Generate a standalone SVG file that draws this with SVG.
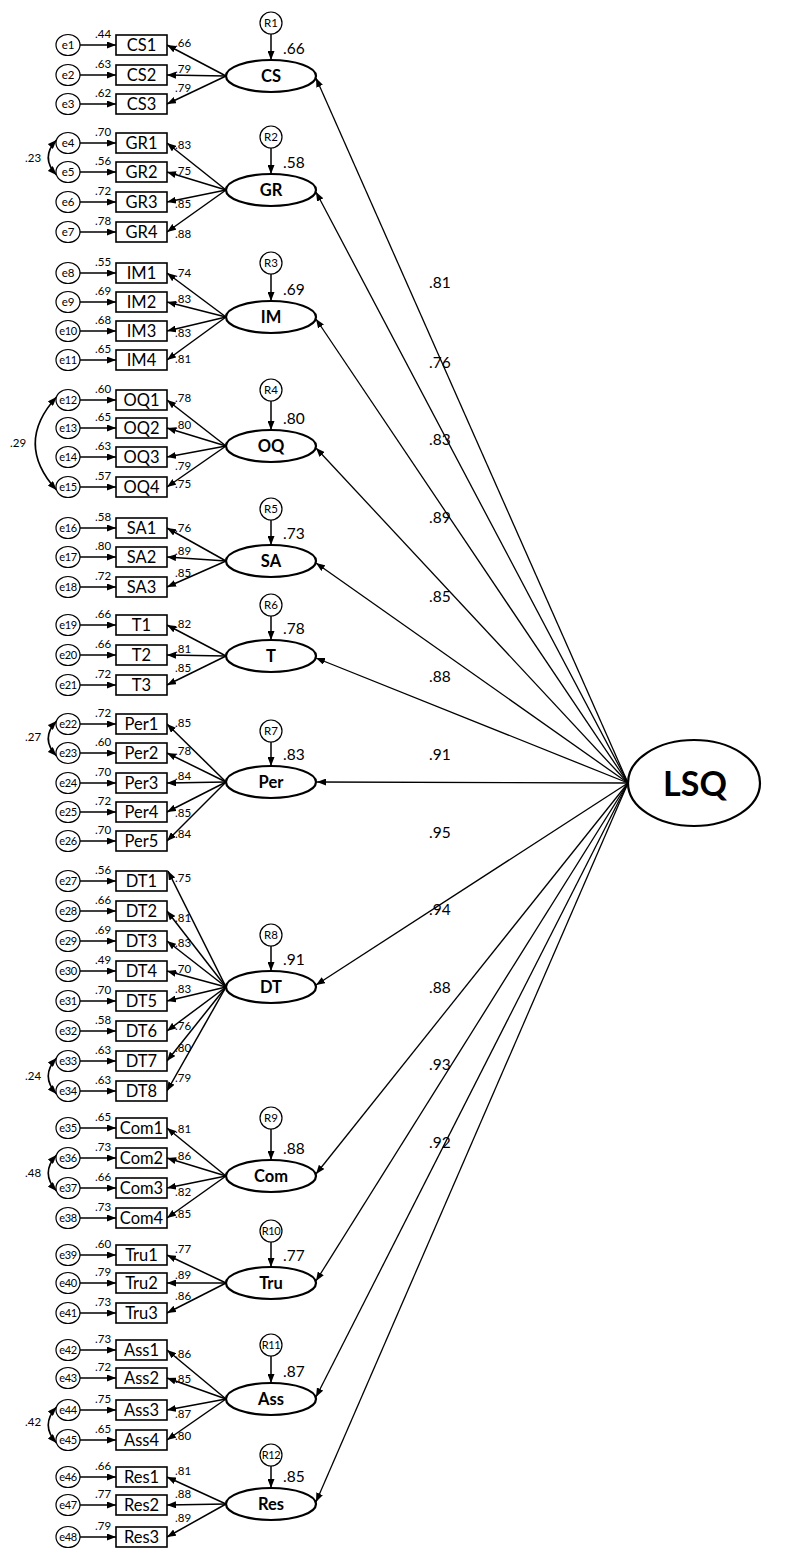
<svg xmlns="http://www.w3.org/2000/svg" width="787" height="1549" viewBox="0 0 787 1549">
<defs>
<marker id="ah" markerUnits="userSpaceOnUse" markerWidth="9" markerHeight="7" refX="9" refY="3.5" orient="auto-start-reverse"><path d="M0,0 L9,3.5 L0,7 z" fill="#000"/></marker>
<style>
text{font-family:Lato,"Liberation Sans",sans-serif;fill:#000}
.box{fill:#fff;stroke:#000;stroke-width:1.6}
.err{fill:#fff;stroke:#000;stroke-width:1.2}
.lat{fill:#fff;stroke:#000;stroke-width:2.2}
.bt{font-size:16.5px;text-anchor:middle}
.ft{font-size:16.5px;font-weight:bold;text-anchor:middle}
.et{font-size:11.5px;text-anchor:middle}
.rt{font-size:11px;text-anchor:middle;letter-spacing:-0.4px}
.sl{font-size:11.5px}
.r2{font-size:15.5px}
.pl{font-size:15.5px}
.c{fill:none;stroke:#000;stroke-width:1.5;marker-end:url(#ah)}
.cv{fill:none;stroke:#000;stroke-width:1.6;marker-start:url(#ah);marker-end:url(#ah)}
.lp{fill:none;stroke:#000;stroke-width:1.3;marker-end:url(#ah)}
</style>
</defs>

<g id="connectors">
<line class="c" x1="80" y1="45" x2="116" y2="45"/><line class="c" x1="80" y1="75" x2="116" y2="75"/><line class="c" x1="80" y1="104" x2="116" y2="104"/>
<line class="c" x1="80" y1="143" x2="116" y2="143"/><line class="c" x1="80" y1="172" x2="116" y2="172"/><line class="c" x1="80" y1="202" x2="116" y2="202"/><line class="c" x1="80" y1="232" x2="116" y2="232"/>
<line class="c" x1="80" y1="273" x2="116" y2="273"/><line class="c" x1="80" y1="302" x2="116" y2="302"/><line class="c" x1="80" y1="331" x2="116" y2="331"/><line class="c" x1="80" y1="360" x2="116" y2="360"/>
<line class="c" x1="80" y1="400" x2="116" y2="400"/><line class="c" x1="80" y1="428" x2="116" y2="428"/><line class="c" x1="80" y1="457" x2="116" y2="457"/><line class="c" x1="80" y1="487" x2="116" y2="487"/>
<line class="c" x1="80" y1="528" x2="116" y2="528"/><line class="c" x1="80" y1="557" x2="116" y2="557"/><line class="c" x1="80" y1="587" x2="116" y2="587"/>
<line class="c" x1="80" y1="625" x2="116" y2="625"/><line class="c" x1="80" y1="655" x2="116" y2="655"/><line class="c" x1="80" y1="685" x2="116" y2="685"/>
<line class="c" x1="80" y1="724" x2="116" y2="724"/><line class="c" x1="80" y1="753" x2="116" y2="753"/><line class="c" x1="80" y1="783" x2="116" y2="783"/><line class="c" x1="80" y1="812" x2="116" y2="812"/><line class="c" x1="80" y1="841" x2="116" y2="841"/>
<line class="c" x1="80" y1="881" x2="116" y2="881"/><line class="c" x1="80" y1="911" x2="116" y2="911"/><line class="c" x1="80" y1="941" x2="116" y2="941"/><line class="c" x1="80" y1="971" x2="116" y2="971"/><line class="c" x1="80" y1="1001" x2="116" y2="1001"/><line class="c" x1="80" y1="1031" x2="116" y2="1031"/><line class="c" x1="80" y1="1061" x2="116" y2="1061"/><line class="c" x1="80" y1="1091" x2="116" y2="1091"/>
<line class="c" x1="80" y1="1128" x2="116" y2="1128"/><line class="c" x1="80" y1="1158" x2="116" y2="1158"/><line class="c" x1="80" y1="1188" x2="116" y2="1188"/><line class="c" x1="80" y1="1218" x2="116" y2="1218"/>
<line class="c" x1="80" y1="1255" x2="116" y2="1255"/><line class="c" x1="80" y1="1283" x2="116" y2="1283"/><line class="c" x1="80" y1="1313" x2="116" y2="1313"/>
<line class="c" x1="80" y1="1350" x2="116" y2="1350"/><line class="c" x1="80" y1="1378" x2="116" y2="1378"/><line class="c" x1="80" y1="1410" x2="116" y2="1410"/><line class="c" x1="80" y1="1440" x2="116" y2="1440"/>
<line class="c" x1="80" y1="1477" x2="116" y2="1477"/><line class="c" x1="80" y1="1505" x2="116" y2="1505"/><line class="c" x1="80" y1="1537" x2="116" y2="1537"/>
<line class="c" x1="226" y1="76" x2="167" y2="45"/><line class="c" x1="226" y1="76" x2="167" y2="75"/><line class="c" x1="226" y1="76" x2="167" y2="104"/>
<line class="c" x1="226" y1="190" x2="167" y2="143"/><line class="c" x1="226" y1="190" x2="167" y2="172"/><line class="c" x1="226" y1="190" x2="167" y2="202"/><line class="c" x1="226" y1="190" x2="167" y2="232"/>
<line class="c" x1="226" y1="317" x2="167" y2="273"/><line class="c" x1="226" y1="317" x2="167" y2="302"/><line class="c" x1="226" y1="317" x2="167" y2="331"/><line class="c" x1="226" y1="317" x2="167" y2="360"/>
<line class="c" x1="226" y1="446" x2="167" y2="400"/><line class="c" x1="226" y1="446" x2="167" y2="428"/><line class="c" x1="226" y1="446" x2="167" y2="457"/><line class="c" x1="226" y1="446" x2="167" y2="487"/>
<line class="c" x1="226" y1="561" x2="167" y2="528"/><line class="c" x1="226" y1="561" x2="167" y2="557"/><line class="c" x1="226" y1="561" x2="167" y2="587"/>
<line class="c" x1="226" y1="656" x2="167" y2="625"/><line class="c" x1="226" y1="656" x2="167" y2="655"/><line class="c" x1="226" y1="656" x2="167" y2="685"/>
<line class="c" x1="226" y1="782" x2="167" y2="724"/><line class="c" x1="226" y1="782" x2="167" y2="753"/><line class="c" x1="226" y1="782" x2="167" y2="783"/><line class="c" x1="226" y1="782" x2="167" y2="812"/><line class="c" x1="226" y1="782" x2="167" y2="841"/>
<line class="c" x1="226" y1="987" x2="168" y2="871"/><line class="c" x1="226" y1="987" x2="167" y2="911"/><line class="c" x1="226" y1="987" x2="167" y2="941"/><line class="c" x1="226" y1="987" x2="167" y2="971"/><line class="c" x1="226" y1="987" x2="167" y2="1001"/><line class="c" x1="226" y1="987" x2="167" y2="1031"/><line class="c" x1="226" y1="987" x2="167" y2="1061"/><line class="c" x1="226" y1="987" x2="167" y2="1091"/>
<line class="c" x1="226" y1="1176" x2="167" y2="1128"/><line class="c" x1="226" y1="1176" x2="167" y2="1158"/><line class="c" x1="226" y1="1176" x2="167" y2="1188"/><line class="c" x1="226" y1="1176" x2="167" y2="1218"/>
<line class="c" x1="226" y1="1283" x2="167" y2="1255"/><line class="c" x1="226" y1="1283" x2="167" y2="1283"/><line class="c" x1="226" y1="1283" x2="167" y2="1313"/>
<line class="c" x1="226" y1="1399" x2="167" y2="1350"/><line class="c" x1="226" y1="1399" x2="167" y2="1378"/><line class="c" x1="226" y1="1399" x2="167" y2="1410"/><line class="c" x1="226" y1="1399" x2="167" y2="1440"/>
<line class="c" x1="226" y1="1504" x2="167" y2="1477"/><line class="c" x1="226" y1="1504" x2="167" y2="1505"/><line class="c" x1="226" y1="1504" x2="167" y2="1537"/>
<line class="c" x1="271" y1="34" x2="271" y2="60"/><line class="c" x1="271" y1="148" x2="271" y2="174"/><line class="c" x1="271" y1="274" x2="271" y2="301"/><line class="c" x1="271" y1="401" x2="271" y2="430"/>
<line class="c" x1="271" y1="520" x2="271" y2="545"/><line class="c" x1="271" y1="616" x2="271" y2="640"/><line class="c" x1="271" y1="742" x2="271" y2="766"/><line class="c" x1="271" y1="946" x2="271" y2="971"/>
<line class="c" x1="271" y1="1129" x2="271" y2="1160"/><line class="c" x1="271" y1="1242" x2="271" y2="1267"/><line class="c" x1="271" y1="1356" x2="271" y2="1383"/><line class="c" x1="271" y1="1466" x2="271" y2="1488"/>
<path class="cv" d="M56.5,140 Q40,157.5 56.5,175"/>
<path class="cv" d="M56.5,397 Q14,443.5 56.5,490"/>
<path class="cv" d="M56.5,721 Q40,738.5 56.5,756"/>
<path class="cv" d="M56.5,1058 Q40,1076 56.5,1094"/>
<path class="cv" d="M56.5,1155 Q40,1173 56.5,1191"/>
<path class="cv" d="M56.5,1407 Q40,1425 56.5,1443"/>
<line class="lp" x1="628" y1="783" x2="316" y2="78"/><line class="lp" x1="628" y1="783" x2="316" y2="192"/><line class="lp" x1="628" y1="783" x2="316" y2="319"/><line class="lp" x1="628" y1="783" x2="316" y2="448"/>
<line class="lp" x1="628" y1="783" x2="316" y2="563"/><line class="lp" x1="628" y1="783" x2="316" y2="658"/><line class="lp" x1="628" y1="783" x2="317" y2="782"/><line class="lp" x1="628" y1="783" x2="316" y2="985"/>
<line class="lp" x1="628" y1="783" x2="316" y2="1174"/><line class="lp" x1="628" y1="783" x2="316" y2="1281"/><line class="lp" x1="628" y1="783" x2="316" y2="1397"/><line class="lp" x1="628" y1="783" x2="316" y2="1502"/>
</g>

<g id="labels">
<g class="sl">
<text x="95" y="38">.44</text><text x="95" y="68">.63</text><text x="95" y="97">.62</text>
<text x="95" y="136">.70</text><text x="95" y="165">.56</text><text x="95" y="195">.72</text><text x="95" y="225">.78</text>
<text x="95" y="266">.55</text><text x="95" y="295">.69</text><text x="95" y="324">.68</text><text x="95" y="353">.65</text>
<text x="95" y="393">.60</text><text x="95" y="421">.65</text><text x="95" y="450">.63</text><text x="95" y="480">.57</text>
<text x="95" y="521">.58</text><text x="95" y="550">.80</text><text x="95" y="580">.72</text>
<text x="95" y="618">.66</text><text x="95" y="648">.66</text><text x="95" y="678">.72</text>
<text x="95" y="717">.72</text><text x="95" y="746">.60</text><text x="95" y="776">.70</text><text x="95" y="805">.72</text><text x="95" y="834">.70</text>
<text x="95" y="874">.56</text><text x="95" y="904">.66</text><text x="95" y="934">.69</text><text x="95" y="964">.49</text><text x="95" y="994">.70</text><text x="95" y="1024">.58</text><text x="95" y="1054">.63</text><text x="95" y="1084">.63</text>
<text x="95" y="1121">.65</text><text x="95" y="1151">.73</text><text x="95" y="1181">.66</text><text x="95" y="1211">.73</text>
<text x="95" y="1248">.60</text><text x="95" y="1276">.79</text><text x="95" y="1306">.73</text>
<text x="95" y="1343">.73</text><text x="95" y="1371">.72</text><text x="95" y="1403">.75</text><text x="95" y="1433">.65</text>
<text x="95" y="1470">.66</text><text x="95" y="1498">.77</text><text x="95" y="1530">.79</text>
<text x="175" y="47">.66</text><text x="175" y="73">.79</text><text x="175" y="92">.79</text>
<text x="175" y="149">.83</text><text x="175" y="175">.75</text><text x="175" y="208">.85</text><text x="175" y="238">.88</text>
<text x="175" y="277">.74</text><text x="175" y="303">.83</text><text x="175" y="337">.83</text><text x="175" y="363">.81</text>
<text x="175" y="402">.78</text><text x="175" y="429">.80</text><text x="175" y="470">.79</text><text x="175" y="488">.75</text>
<text x="175" y="532">.76</text><text x="175" y="555">.89</text><text x="175" y="577">.85</text>
<text x="175" y="628">.82</text><text x="175" y="653">.81</text><text x="175" y="672">.85</text>
<text x="175" y="727">.85</text><text x="175" y="755">.78</text><text x="175" y="780">.84</text><text x="175" y="817">.85</text><text x="175" y="838">.84</text>
<text x="175" y="882">.75</text><text x="175" y="922">.81</text><text x="175" y="947">.83</text><text x="175" y="973">.70</text><text x="175" y="993">.83</text><text x="175" y="1030">.76</text><text x="175" y="1052">.80</text><text x="175" y="1082">.79</text>
<text x="175" y="1133">.81</text><text x="175" y="1160">.86</text><text x="175" y="1196">.82</text><text x="175" y="1218">.85</text>
<text x="175" y="1253">.77</text><text x="175" y="1279">.89</text><text x="175" y="1300">.86</text>
<text x="175" y="1358">.86</text><text x="175" y="1383">.85</text><text x="175" y="1418">.87</text><text x="175" y="1440">.80</text>
<text x="175" y="1475">.81</text><text x="175" y="1498">.88</text><text x="175" y="1522">.89</text>
<text x="25" y="162">.23</text><text x="10" y="447">.29</text><text x="25" y="741">.27</text><text x="25" y="1080">.24</text><text x="25" y="1177">.48</text><text x="25" y="1426">.42</text>
</g>
<g class="r2">
<text x="283" y="54">.66</text><text x="283" y="168">.58</text><text x="283" y="295">.69</text><text x="283" y="424">.80</text>
<text x="283" y="539">.73</text><text x="283" y="634">.78</text><text x="283" y="760">.83</text><text x="283" y="965">.91</text>
<text x="283" y="1154">.88</text><text x="283" y="1261">.77</text><text x="283" y="1377">.87</text><text x="283" y="1482">.85</text>
</g>
<g class="pl">
<text x="429" y="288">.81</text><text x="429" y="368">.76</text><text x="429" y="445">.83</text><text x="429" y="523">.89</text>
<text x="429" y="602">.85</text><text x="429" y="682">.88</text><text x="429" y="760">.91</text><text x="429" y="838">.95</text>
<text x="429" y="915">.94</text><text x="429" y="993">.88</text><text x="429" y="1070">.93</text><text x="429" y="1148">.92</text>
</g>
</g>

<g id="LSQ"><ellipse class="lat" cx="694" cy="783" rx="66" ry="43"/><text x="695" y="796" style="font-size:34px;font-weight:bold;text-anchor:middle">LSQ</text></g>

<g id="CS"><ellipse class="lat" cx="271" cy="76" rx="45" ry="16"/><text class="ft" x="271" y="82">CS</text></g>
<g id="GR"><ellipse class="lat" cx="271" cy="190" rx="45" ry="16"/><text class="ft" x="271" y="196">GR</text></g>
<g id="IM"><ellipse class="lat" cx="271" cy="317" rx="45" ry="16"/><text class="ft" x="271" y="323">IM</text></g>
<g id="OQ"><ellipse class="lat" cx="271" cy="446" rx="45" ry="16"/><text class="ft" x="271" y="452">OQ</text></g>
<g id="SA"><ellipse class="lat" cx="271" cy="561" rx="45" ry="16"/><text class="ft" x="271" y="567">SA</text></g>
<g id="T"><ellipse class="lat" cx="271" cy="656" rx="45" ry="16"/><text class="ft" x="271" y="662">T</text></g>
<g id="Per"><ellipse class="lat" cx="271" cy="782" rx="45" ry="16"/><text class="ft" x="271" y="788">Per</text></g>
<g id="DT"><ellipse class="lat" cx="271" cy="987" rx="45" ry="16"/><text class="ft" x="271" y="993">DT</text></g>
<g id="Com"><ellipse class="lat" cx="271" cy="1176" rx="45" ry="16"/><text class="ft" x="271" y="1182">Com</text></g>
<g id="Tru"><ellipse class="lat" cx="271" cy="1283" rx="45" ry="16"/><text class="ft" x="271" y="1289">Tru</text></g>
<g id="Ass"><ellipse class="lat" cx="271" cy="1399" rx="45" ry="16"/><text class="ft" x="271" y="1405">Ass</text></g>
<g id="Res"><ellipse class="lat" cx="271" cy="1504" rx="45" ry="16"/><text class="ft" x="271" y="1510">Res</text></g>

<g id="R1"><circle class="err" cx="271" cy="23" r="11"/><text class="et" x="271" y="27">R1</text></g>
<g id="R2"><circle class="err" cx="271" cy="137" r="11"/><text class="et" x="271" y="141">R2</text></g>
<g id="R3"><circle class="err" cx="271" cy="263" r="11"/><text class="et" x="271" y="267">R3</text></g>
<g id="R4"><circle class="err" cx="271" cy="390" r="11"/><text class="et" x="271" y="394">R4</text></g>
<g id="R5"><circle class="err" cx="271" cy="509" r="11"/><text class="et" x="271" y="513">R5</text></g>
<g id="R6"><circle class="err" cx="271" cy="605" r="11"/><text class="et" x="271" y="609">R6</text></g>
<g id="R7"><circle class="err" cx="271" cy="731" r="11"/><text class="et" x="271" y="735">R7</text></g>
<g id="R8"><circle class="err" cx="271" cy="935" r="11"/><text class="et" x="271" y="939">R8</text></g>
<g id="R9"><circle class="err" cx="271" cy="1118" r="11"/><text class="et" x="271" y="1122">R9</text></g>
<g id="R10"><circle class="err" cx="271" cy="1231" r="11"/><text class="rt" x="271" y="1235">R10</text></g>
<g id="R11"><circle class="err" cx="271" cy="1345" r="11"/><text class="rt" x="271" y="1349">R11</text></g>
<g id="R12"><circle class="err" cx="271" cy="1455" r="11"/><text class="rt" x="271" y="1459">R12</text></g>

<g id="CS1"><rect class="box" x="116" y="35" width="51" height="20"/><text class="bt" x="141.5" y="51">CS1</text></g>
<g id="CS2"><rect class="box" x="116" y="65" width="51" height="20"/><text class="bt" x="141.5" y="81">CS2</text></g>
<g id="CS3"><rect class="box" x="116" y="94" width="51" height="20"/><text class="bt" x="141.5" y="110">CS3</text></g>
<g id="GR1"><rect class="box" x="116" y="133" width="51" height="20"/><text class="bt" x="141.5" y="149">GR1</text></g>
<g id="GR2"><rect class="box" x="116" y="162" width="51" height="20"/><text class="bt" x="141.5" y="178">GR2</text></g>
<g id="GR3"><rect class="box" x="116" y="192" width="51" height="20"/><text class="bt" x="141.5" y="208">GR3</text></g>
<g id="GR4"><rect class="box" x="116" y="222" width="51" height="20"/><text class="bt" x="141.5" y="238">GR4</text></g>
<g id="IM1"><rect class="box" x="116" y="263" width="51" height="20"/><text class="bt" x="141.5" y="279">IM1</text></g>
<g id="IM2"><rect class="box" x="116" y="292" width="51" height="20"/><text class="bt" x="141.5" y="308">IM2</text></g>
<g id="IM3"><rect class="box" x="116" y="321" width="51" height="20"/><text class="bt" x="141.5" y="337">IM3</text></g>
<g id="IM4"><rect class="box" x="116" y="350" width="51" height="20"/><text class="bt" x="141.5" y="366">IM4</text></g>
<g id="OQ1"><rect class="box" x="116" y="390" width="51" height="20"/><text class="bt" x="141.5" y="406">OQ1</text></g>
<g id="OQ2"><rect class="box" x="116" y="418" width="51" height="20"/><text class="bt" x="141.5" y="434">OQ2</text></g>
<g id="OQ3"><rect class="box" x="116" y="447" width="51" height="20"/><text class="bt" x="141.5" y="463">OQ3</text></g>
<g id="OQ4"><rect class="box" x="116" y="477" width="51" height="20"/><text class="bt" x="141.5" y="493">OQ4</text></g>
<g id="SA1"><rect class="box" x="116" y="518" width="51" height="20"/><text class="bt" x="141.5" y="534">SA1</text></g>
<g id="SA2"><rect class="box" x="116" y="547" width="51" height="20"/><text class="bt" x="141.5" y="563">SA2</text></g>
<g id="SA3"><rect class="box" x="116" y="577" width="51" height="20"/><text class="bt" x="141.5" y="593">SA3</text></g>
<g id="T1"><rect class="box" x="116" y="615" width="51" height="20"/><text class="bt" x="141.5" y="631">T1</text></g>
<g id="T2"><rect class="box" x="116" y="645" width="51" height="20"/><text class="bt" x="141.5" y="661">T2</text></g>
<g id="T3"><rect class="box" x="116" y="675" width="51" height="20"/><text class="bt" x="141.5" y="691">T3</text></g>
<g id="Per1"><rect class="box" x="116" y="714" width="51" height="20"/><text class="bt" x="141.5" y="730">Per1</text></g>
<g id="Per2"><rect class="box" x="116" y="743" width="51" height="20"/><text class="bt" x="141.5" y="759">Per2</text></g>
<g id="Per3"><rect class="box" x="116" y="773" width="51" height="20"/><text class="bt" x="141.5" y="789">Per3</text></g>
<g id="Per4"><rect class="box" x="116" y="802" width="51" height="20"/><text class="bt" x="141.5" y="818">Per4</text></g>
<g id="Per5"><rect class="box" x="116" y="831" width="51" height="20"/><text class="bt" x="141.5" y="847">Per5</text></g>
<g id="DT1"><rect class="box" x="116" y="871" width="51" height="20"/><text class="bt" x="141.5" y="887">DT1</text></g>
<g id="DT2"><rect class="box" x="116" y="901" width="51" height="20"/><text class="bt" x="141.5" y="917">DT2</text></g>
<g id="DT3"><rect class="box" x="116" y="931" width="51" height="20"/><text class="bt" x="141.5" y="947">DT3</text></g>
<g id="DT4"><rect class="box" x="116" y="961" width="51" height="20"/><text class="bt" x="141.5" y="977">DT4</text></g>
<g id="DT5"><rect class="box" x="116" y="991" width="51" height="20"/><text class="bt" x="141.5" y="1007">DT5</text></g>
<g id="DT6"><rect class="box" x="116" y="1021" width="51" height="20"/><text class="bt" x="141.5" y="1037">DT6</text></g>
<g id="DT7"><rect class="box" x="116" y="1051" width="51" height="20"/><text class="bt" x="141.5" y="1067">DT7</text></g>
<g id="DT8"><rect class="box" x="116" y="1081" width="51" height="20"/><text class="bt" x="141.5" y="1097">DT8</text></g>
<g id="Com1"><rect class="box" x="116" y="1118" width="51" height="20"/><text class="bt" x="141.5" y="1134">Com1</text></g>
<g id="Com2"><rect class="box" x="116" y="1148" width="51" height="20"/><text class="bt" x="141.5" y="1164">Com2</text></g>
<g id="Com3"><rect class="box" x="116" y="1178" width="51" height="20"/><text class="bt" x="141.5" y="1194">Com3</text></g>
<g id="Com4"><rect class="box" x="116" y="1208" width="51" height="20"/><text class="bt" x="141.5" y="1224">Com4</text></g>
<g id="Tru1"><rect class="box" x="116" y="1245" width="51" height="20"/><text class="bt" x="141.5" y="1261">Tru1</text></g>
<g id="Tru2"><rect class="box" x="116" y="1273" width="51" height="20"/><text class="bt" x="141.5" y="1289">Tru2</text></g>
<g id="Tru3"><rect class="box" x="116" y="1303" width="51" height="20"/><text class="bt" x="141.5" y="1319">Tru3</text></g>
<g id="Ass1"><rect class="box" x="116" y="1340" width="51" height="20"/><text class="bt" x="141.5" y="1356">Ass1</text></g>
<g id="Ass2"><rect class="box" x="116" y="1368" width="51" height="20"/><text class="bt" x="141.5" y="1384">Ass2</text></g>
<g id="Ass3"><rect class="box" x="116" y="1400" width="51" height="20"/><text class="bt" x="141.5" y="1416">Ass3</text></g>
<g id="Ass4"><rect class="box" x="116" y="1430" width="51" height="20"/><text class="bt" x="141.5" y="1446">Ass4</text></g>
<g id="Res1"><rect class="box" x="116" y="1467" width="51" height="20"/><text class="bt" x="141.5" y="1483">Res1</text></g>
<g id="Res2"><rect class="box" x="116" y="1495" width="51" height="20"/><text class="bt" x="141.5" y="1511">Res2</text></g>
<g id="Res3"><rect class="box" x="116" y="1527" width="51" height="20"/><text class="bt" x="141.5" y="1543">Res3</text></g>

<g id="e1"><ellipse class="err" cx="68" cy="45" rx="12" ry="10.5"/><text class="et" x="68" y="49">e1</text></g>
<g id="e2"><ellipse class="err" cx="68" cy="75" rx="12" ry="10.5"/><text class="et" x="68" y="79">e2</text></g>
<g id="e3"><ellipse class="err" cx="68" cy="104" rx="12" ry="10.5"/><text class="et" x="68" y="108">e3</text></g>
<g id="e4"><ellipse class="err" cx="68" cy="143" rx="12" ry="10.5"/><text class="et" x="68" y="147">e4</text></g>
<g id="e5"><ellipse class="err" cx="68" cy="172" rx="12" ry="10.5"/><text class="et" x="68" y="176">e5</text></g>
<g id="e6"><ellipse class="err" cx="68" cy="202" rx="12" ry="10.5"/><text class="et" x="68" y="206">e6</text></g>
<g id="e7"><ellipse class="err" cx="68" cy="232" rx="12" ry="10.5"/><text class="et" x="68" y="236">e7</text></g>
<g id="e8"><ellipse class="err" cx="68" cy="273" rx="12" ry="10.5"/><text class="et" x="68" y="277">e8</text></g>
<g id="e9"><ellipse class="err" cx="68" cy="302" rx="12" ry="10.5"/><text class="et" x="68" y="306">e9</text></g>
<g id="e10"><ellipse class="err" cx="68" cy="331" rx="12" ry="10.5"/><text class="rt" x="68" y="335">e10</text></g>
<g id="e11"><ellipse class="err" cx="68" cy="360" rx="12" ry="10.5"/><text class="rt" x="68" y="364">e11</text></g>
<g id="e12"><ellipse class="err" cx="68" cy="400" rx="12" ry="10.5"/><text class="rt" x="68" y="404">e12</text></g>
<g id="e13"><ellipse class="err" cx="68" cy="428" rx="12" ry="10.5"/><text class="rt" x="68" y="432">e13</text></g>
<g id="e14"><ellipse class="err" cx="68" cy="457" rx="12" ry="10.5"/><text class="rt" x="68" y="461">e14</text></g>
<g id="e15"><ellipse class="err" cx="68" cy="487" rx="12" ry="10.5"/><text class="rt" x="68" y="491">e15</text></g>
<g id="e16"><ellipse class="err" cx="68" cy="528" rx="12" ry="10.5"/><text class="rt" x="68" y="532">e16</text></g>
<g id="e17"><ellipse class="err" cx="68" cy="557" rx="12" ry="10.5"/><text class="rt" x="68" y="561">e17</text></g>
<g id="e18"><ellipse class="err" cx="68" cy="587" rx="12" ry="10.5"/><text class="rt" x="68" y="591">e18</text></g>
<g id="e19"><ellipse class="err" cx="68" cy="625" rx="12" ry="10.5"/><text class="rt" x="68" y="629">e19</text></g>
<g id="e20"><ellipse class="err" cx="68" cy="655" rx="12" ry="10.5"/><text class="rt" x="68" y="659">e20</text></g>
<g id="e21"><ellipse class="err" cx="68" cy="685" rx="12" ry="10.5"/><text class="rt" x="68" y="689">e21</text></g>
<g id="e22"><ellipse class="err" cx="68" cy="724" rx="12" ry="10.5"/><text class="rt" x="68" y="728">e22</text></g>
<g id="e23"><ellipse class="err" cx="68" cy="753" rx="12" ry="10.5"/><text class="rt" x="68" y="757">e23</text></g>
<g id="e24"><ellipse class="err" cx="68" cy="783" rx="12" ry="10.5"/><text class="rt" x="68" y="787">e24</text></g>
<g id="e25"><ellipse class="err" cx="68" cy="812" rx="12" ry="10.5"/><text class="rt" x="68" y="816">e25</text></g>
<g id="e26"><ellipse class="err" cx="68" cy="841" rx="12" ry="10.5"/><text class="rt" x="68" y="845">e26</text></g>
<g id="e27"><ellipse class="err" cx="68" cy="881" rx="12" ry="10.5"/><text class="rt" x="68" y="885">e27</text></g>
<g id="e28"><ellipse class="err" cx="68" cy="911" rx="12" ry="10.5"/><text class="rt" x="68" y="915">e28</text></g>
<g id="e29"><ellipse class="err" cx="68" cy="941" rx="12" ry="10.5"/><text class="rt" x="68" y="945">e29</text></g>
<g id="e30"><ellipse class="err" cx="68" cy="971" rx="12" ry="10.5"/><text class="rt" x="68" y="975">e30</text></g>
<g id="e31"><ellipse class="err" cx="68" cy="1001" rx="12" ry="10.5"/><text class="rt" x="68" y="1005">e31</text></g>
<g id="e32"><ellipse class="err" cx="68" cy="1031" rx="12" ry="10.5"/><text class="rt" x="68" y="1035">e32</text></g>
<g id="e33"><ellipse class="err" cx="68" cy="1061" rx="12" ry="10.5"/><text class="rt" x="68" y="1065">e33</text></g>
<g id="e34"><ellipse class="err" cx="68" cy="1091" rx="12" ry="10.5"/><text class="rt" x="68" y="1095">e34</text></g>
<g id="e35"><ellipse class="err" cx="68" cy="1128" rx="12" ry="10.5"/><text class="rt" x="68" y="1132">e35</text></g>
<g id="e36"><ellipse class="err" cx="68" cy="1158" rx="12" ry="10.5"/><text class="rt" x="68" y="1162">e36</text></g>
<g id="e37"><ellipse class="err" cx="68" cy="1188" rx="12" ry="10.5"/><text class="rt" x="68" y="1192">e37</text></g>
<g id="e38"><ellipse class="err" cx="68" cy="1218" rx="12" ry="10.5"/><text class="rt" x="68" y="1222">e38</text></g>
<g id="e39"><ellipse class="err" cx="68" cy="1255" rx="12" ry="10.5"/><text class="rt" x="68" y="1259">e39</text></g>
<g id="e40"><ellipse class="err" cx="68" cy="1283" rx="12" ry="10.5"/><text class="rt" x="68" y="1287">e40</text></g>
<g id="e41"><ellipse class="err" cx="68" cy="1313" rx="12" ry="10.5"/><text class="rt" x="68" y="1317">e41</text></g>
<g id="e42"><ellipse class="err" cx="68" cy="1350" rx="12" ry="10.5"/><text class="rt" x="68" y="1354">e42</text></g>
<g id="e43"><ellipse class="err" cx="68" cy="1378" rx="12" ry="10.5"/><text class="rt" x="68" y="1382">e43</text></g>
<g id="e44"><ellipse class="err" cx="68" cy="1410" rx="12" ry="10.5"/><text class="rt" x="68" y="1414">e44</text></g>
<g id="e45"><ellipse class="err" cx="68" cy="1440" rx="12" ry="10.5"/><text class="rt" x="68" y="1444">e45</text></g>
<g id="e46"><ellipse class="err" cx="68" cy="1477" rx="12" ry="10.5"/><text class="rt" x="68" y="1481">e46</text></g>
<g id="e47"><ellipse class="err" cx="68" cy="1505" rx="12" ry="10.5"/><text class="rt" x="68" y="1509">e47</text></g>
<g id="e48"><ellipse class="err" cx="68" cy="1537" rx="12" ry="10.5"/><text class="rt" x="68" y="1541">e48</text></g>
</svg>
